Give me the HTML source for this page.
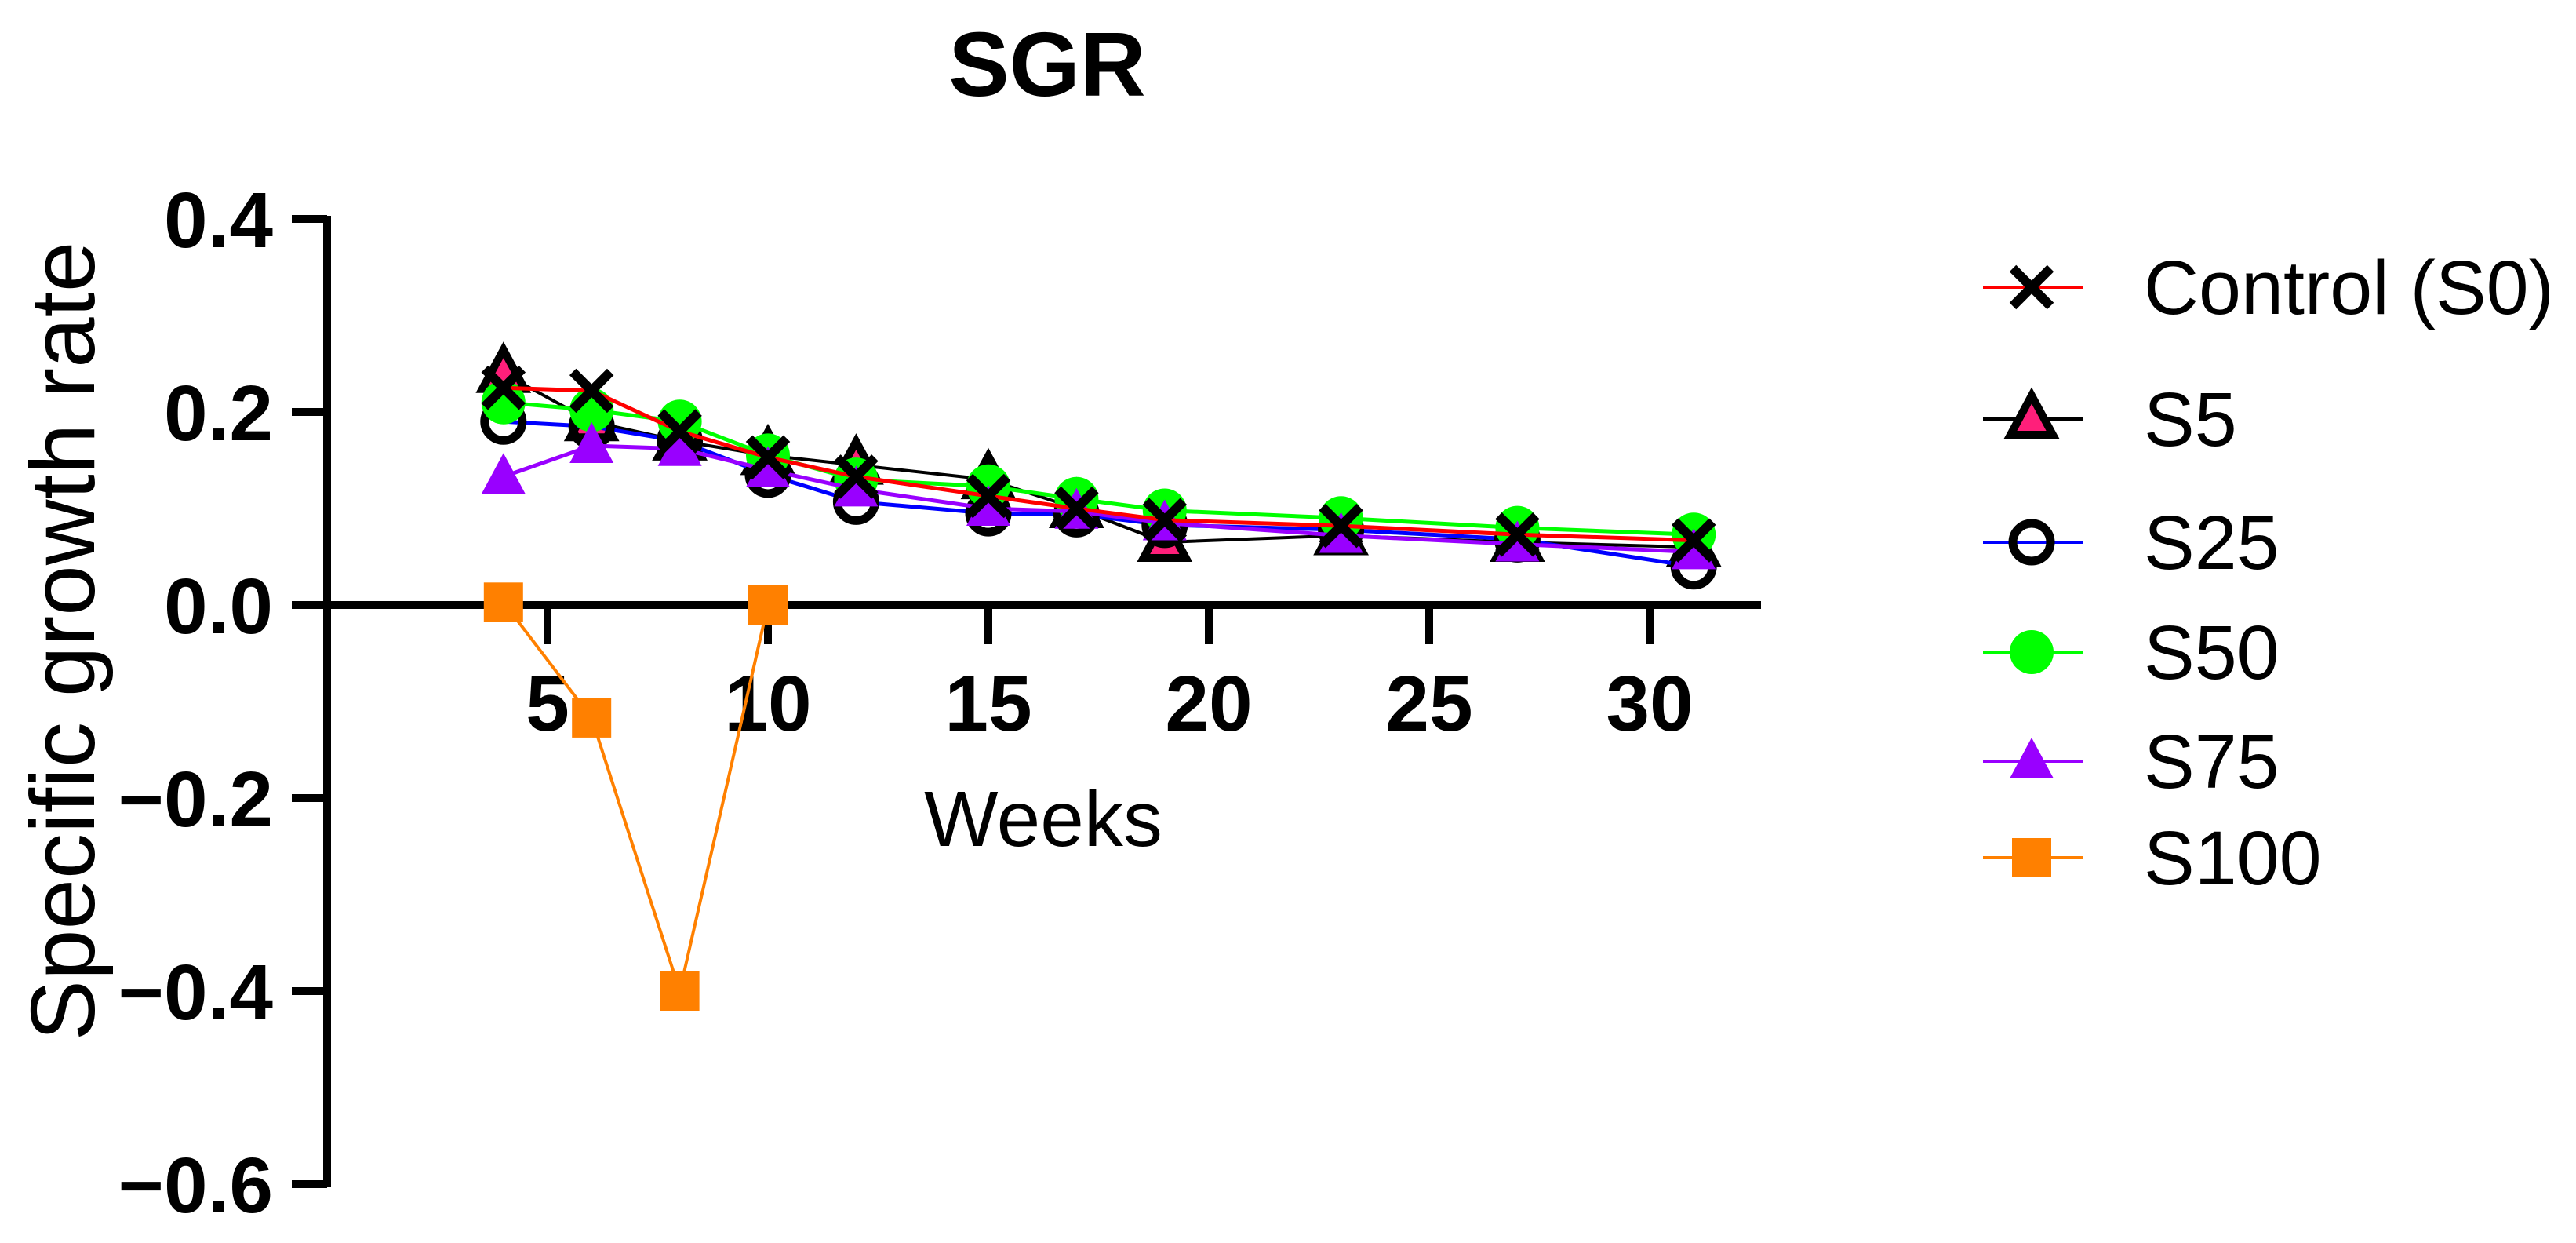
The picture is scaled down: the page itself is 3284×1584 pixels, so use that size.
<!DOCTYPE html>
<html><head><meta charset="utf-8"><style>
html,body{margin:0;padding:0;background:#fff}
svg{display:block;font-family:"Liberation Sans",Arial,sans-serif}
</style></head><body>
<svg id="chart" width="3284" height="1584" viewBox="0 0 3284 1584">
<text x="1335" y="122" text-anchor="middle" font-size="116" font-weight="bold">SGR</text>
<g id="axes"></g>
<g id="series"></g>
<g id="legend"></g>
<text transform="translate(120,817) rotate(-90)" text-anchor="middle" font-size="116">Specific growth rate</text>
<text x="1330" y="1078" text-anchor="middle" font-size="100">Weeks</text>
</svg>
<script>
const weeks=[4,6,8,10,12,15,17,19,23,27,31];
const control=[0.225,0.222,0.18,0.153,0.133,0.113,0.10,0.088,0.082,0.073,0.067];
const s5=[0.24,0.19,0.17,0.155,0.145,0.13,0.10,0.065,0.072,0.065,0.06];
const s25=[0.19,0.185,0.17,0.135,0.107,0.095,0.094,0.083,0.078,0.068,0.04];
const s50=[0.21,0.202,0.19,0.155,0.13,0.123,0.11,0.098,0.09,0.08,0.073];
const s75=[0.133,0.165,0.162,0.14,0.12,0.1,0.097,0.085,0.072,0.063,0.055];
const s100Weeks=[4,6,8,10];
const s100=[0.003,-0.117,-0.4,0.0];
const xTicks=[5,10,15,20,25,30];
const yTicks=[0.4,0.2,0.0,-0.2,-0.4,-0.6];
const yTickLabels=["0.4","0.2","0.0","\u22120.2","\u22120.4","\u22120.6"];
const seriesNames=["Control (S0)","S5","S25","S50","S75","S100"];

const NS="http://www.w3.org/2000/svg";
const X=w=>417+w*56.2;
const Y=v=>771-v*1230;
function mk(tag,attrs,parent){const e=document.createElementNS(NS,tag);for(const k in attrs)e.setAttribute(k,attrs[k]);parent.appendChild(e);return e;}
const axes=document.getElementById('axes'),ser=document.getElementById('series'),leg=document.getElementById('legend');
let e;
e=mk('line',{x1:417,y1:Y(0.4)-4,x2:417,y2:Y(-0.6)+4,stroke:'#000','stroke-width':10},axes);


e=mk('line',{x1:412,y1:Y(0),x2:2245,y2:Y(0),stroke:'#000','stroke-width':10},axes);


yTicks.forEach((t,i)=>{
 e=mk('line',{x1:372,y1:Y(t),x2:417,y2:Y(t),stroke:'#000','stroke-width':10},axes);
 
 
 e=mk('text',{x:348,y:Y(t)+36,'text-anchor':'end','font-size':100,'font-weight':'bold'},axes);
 e.textContent=yTickLabels[i];
 
 
});
xTicks.forEach(t=>{
 e=mk('line',{x1:X(t),y1:Y(0),x2:X(t),y2:Y(0)+50,stroke:'#000','stroke-width':10},axes);
 
 
 e=mk('text',{x:X(t),y:Y(0)+160,'text-anchor':'middle','font-size':100,'font-weight':'bold'},axes);
 e.textContent=t;
 
 
});
function marker(type,color,x,y,g){
 if(type==='x'){mk('path',{d:`M${x-24},${y-24}L${x+24},${y+24}M${x-24},${y+24}L${x+24},${y-24}`,stroke:'#000','stroke-width':12,fill:'none'},g);}
 else if(type==='tri'){mk('path',{d:`M${x},${y-30}L${x+27},${y+20}L${x-27},${y+20}Z`,fill:'#ff1f7a',stroke:'#000','stroke-width':10},g);}
 else if(type==='ocirc'){mk('circle',{cx:x,cy:y,r:24,fill:'none',stroke:'#000','stroke-width':11},g);}
 else if(type==='circ'){mk('circle',{cx:x,cy:y,r:28,fill:color},g);}
 else if(type==='ptri'){mk('path',{d:`M${x},${y-30}L${x+28},${y+22}L${x-28},${y+22}Z`,fill:color},g);}
 else if(type==='sq'){mk('rect',{x:x-25,y:y-25,width:50,height:50,fill:color},g);}
}
const defs=[
 {n:'s5',xs:weeks,v:s5,c:'#000',m:'tri',w:4},
 {n:'s25',xs:weeks,v:s25,c:'#0000ff',m:'ocirc',w:5},
 {n:'s50',xs:weeks,v:s50,c:'#00ff00',m:'circ',w:5},
 {n:'s75',xs:weeks,v:s75,c:'#9900ff',m:'ptri',w:5},
 {n:'control',xs:weeks,v:control,c:'#ff0000',m:'x',w:5},
 {n:'s100',xs:s100Weeks,v:s100,c:'#ff8000',m:'sq',w:4}
];
defs.forEach(d=>{
 const g=mk('g',{},ser);
 
 
 const pts=d.xs.map((w,i)=>X(w)+','+Y(d.v[i])).join(' ');
 mk('polyline',{points:pts,fill:'none',stroke:d.c,'stroke-width':d.w},g);
 d.xs.forEach((w,i)=>marker(d.m,d.c,X(w),Y(d.v[i]),g));
});
const legDefs=[['#ff0000','x'],['#000','tri'],['#0000ff','ocirc'],['#00ff00','circ'],['#9900ff','ptri'],['#ff8000','sq']];
const legY=[366,534,691,831,970,1093];
legDefs.forEach((d,i)=>{
 const g=mk('g',{},leg);
 
 
 mk('line',{x1:2528,y1:legY[i],x2:2655,y2:legY[i],stroke:d[0],'stroke-width':4},g);
 marker(d[1],d[0],2590,legY[i],g);
 const t=mk('text',{x:2733,y:legY[i]+34,'font-size':97},g);
 t.textContent=seriesNames[i];
});
</script>
</body></html>
